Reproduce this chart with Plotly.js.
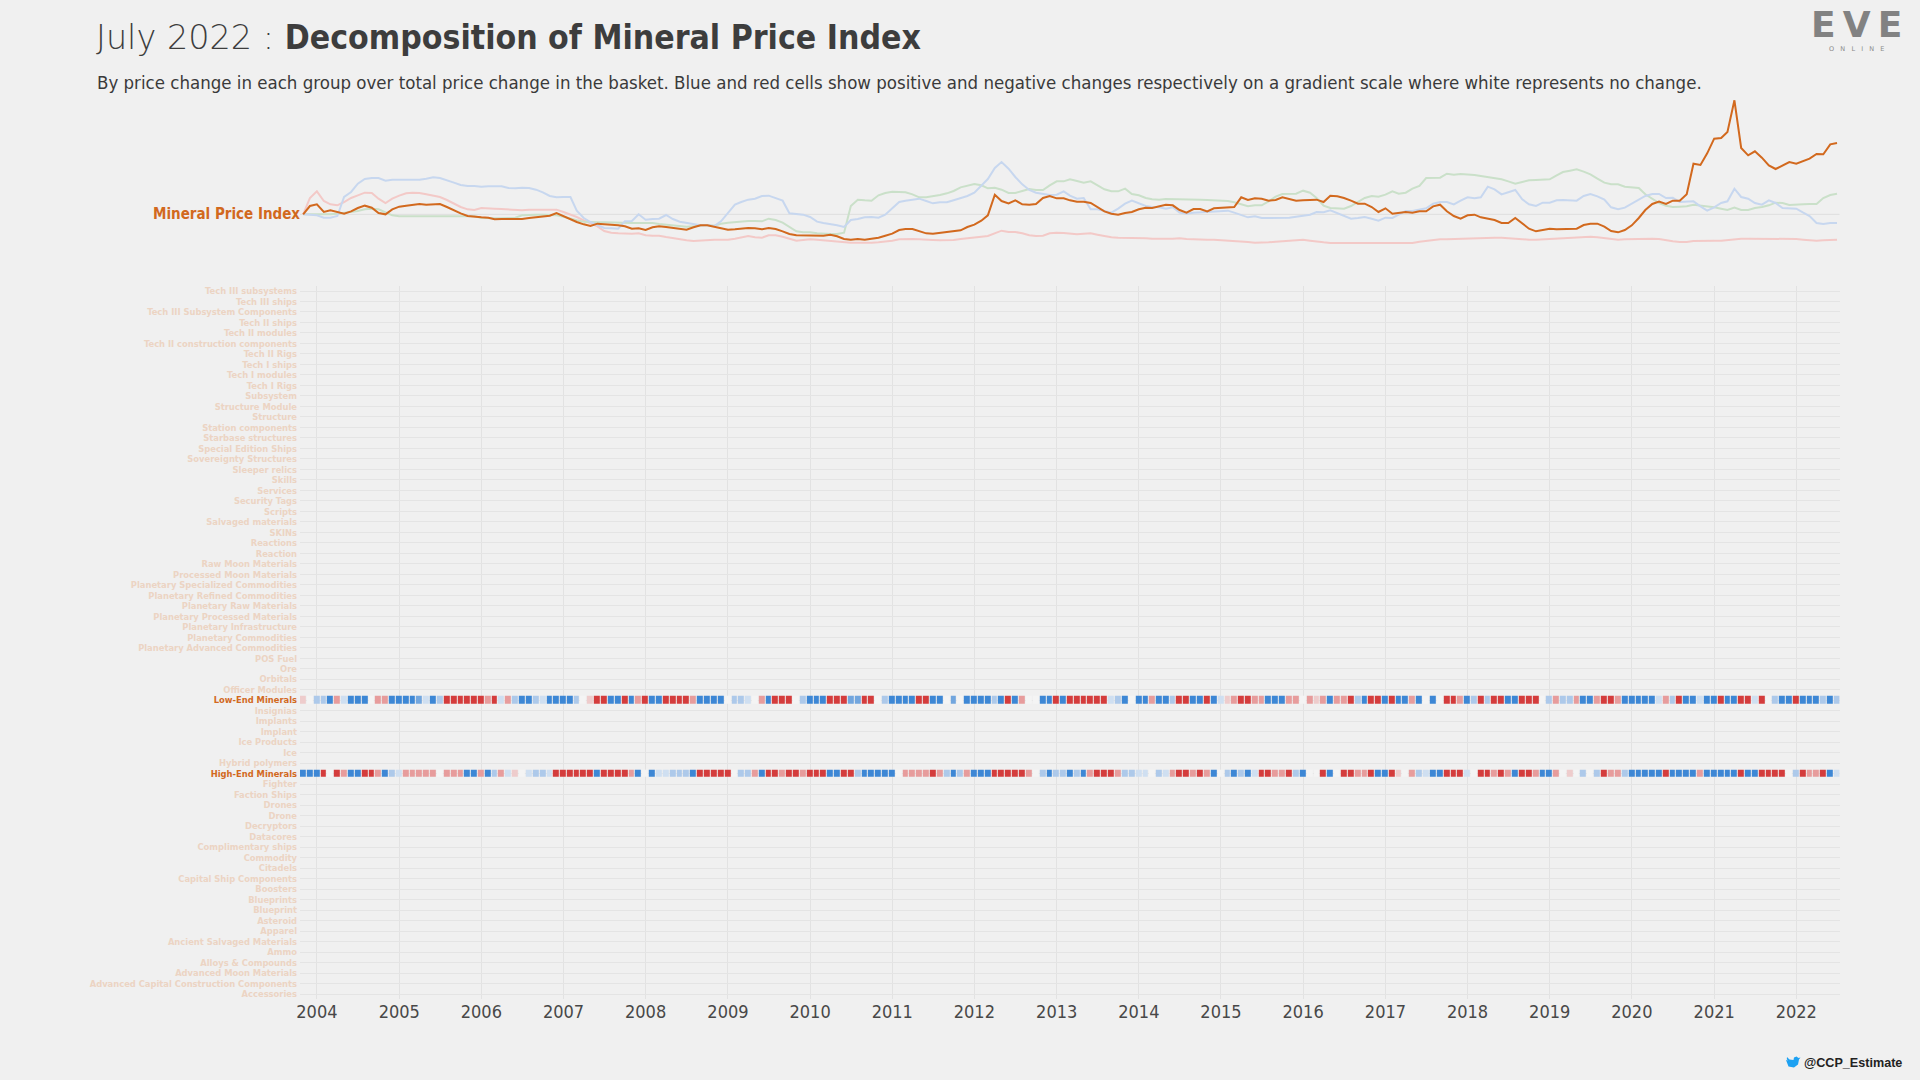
<!DOCTYPE html>
<html><head><meta charset="utf-8">
<script src="https://cdn.plot.ly/plotly-3.0.1.min.js"></script>
<style>html,body{margin:0;padding:0;background:#f0f0f0;overflow:hidden}#chart{width:1920px;height:1080px}</style>
</head><body><div id="chart"></div>
<script>
// ---------- DATA ----------
const startMonth = '2003-11';
const monthCount = 225; // Nov 2003 .. Jul 2022
const yearTicks = ['2004','2005','2006','2007','2008','2009','2010','2011','2012','2013','2014','2015','2016','2017','2018','2019','2020','2021','2022'];

const categories = ['Tech III subsystems','Tech III ships','Tech III Subsystem Components','Tech II ships','Tech II modules','Tech II construction components','Tech II Rigs','Tech I ships','Tech I modules','Tech I Rigs','Subsystem','Structure Module','Structure','Station components','Starbase structures','Special Edition Ships','Sovereignty Structures','Sleeper relics','Skills','Services','Security Tags','Scripts','Salvaged materials','SKINs','Reactions','Reaction','Raw Moon Materials','Processed Moon Materials','Planetary Specialized Commodities','Planetary Refined Commodities','Planetary Raw Materials','Planetary Processed Materials','Planetary Infrastructure','Planetary Commodities','Planetary Advanced Commodities','POS Fuel','Ore','Orbitals','Officer Modules','Low-End Minerals','Insignias','Implants','Implant','Ice Products','Ice','Hybrid polymers','High-End Minerals','Fighter','Faction Ships','Drones','Drone','Decryptors','Datacores','Complimentary ships','Commodity','Citadels','Capital Ship Components','Boosters','Blueprints','Blueprint','Asteroid','Apparel','Ancient Salvaged Materials','Ammo','Alloys & Compounds','Advanced Moon Materials','Advanced Capital Construction Components','Accessories'];
const highlighted = ['Low-End Minerals','High-End Minerals'];

// Index lines (change from start, arbitrary units)
const mineralPriceIndex = [0,25,30,7,12,7,2,9,19,26,20,4,0,15,23,26,29,31,29,30,31,22,12,3,-5,-8,-9,-10,-15,-14,-14,-16,-14,-11,-9,-6,-4,4,-6,-16,-23,-30,-35,-28,-29,-31,-33,-36,-43,-42,-47,-39,-36,-38,-40,-43,-46,-39,-33,-33,-38,-42,-46,-45,-43,-41,-42,-45,-41,-44,-51,-59,-63,-63,-62,-64,-64,-61,-66,-74,-76,-74,-76,-73,-70,-64,-58,-47,-44,-44,-51,-57,-58,-56,-54,-52,-48,-38,-31,-19,-3,59,40,33,42,30,29,31,49,55,48,48,42,38,38,34,22,9,2,-1,4,7,15,20,19,24,29,27,13,5,16,16,9,18,20,22,22,51,43,48,47,41,43,51,47,41,42,43,44,37,56,54,49,41,32,32,22,7,18,2,4,7,5,9,9,24,29,9,-5,-13,-3,-1,-9,-13,-17,-26,-26,-11,-28,-43,-51,-47,-43,-45,-44,-43,-43,-32,-28,-28,-37,-50,-54,-47,-33,-11,13,31,38,31,41,41,60,152,148,183,227,229,247,342,199,177,189,170,147,136,147,157,152,159,167,181,180,210,214];
const blueLine = [0,-1,-3,-10,-10,-5,52,67,92,106,109,109,101,104,104,104,104,104,107,111,109,103,95,88,85,85,83,84,85,84,79,78,80,79,74,66,55,51,52,52,11,-11,-23,-31,-41,-42,-43,-21,-20,0,-16,-14,-13,-2,-14,-22,-26,-30,-33,-33,-35,-21,4,29,37,44,47,55,56,49,41,3,0,-1,-8,-22,-26,-29,-33,-38,-17,-14,-9,-8,-10,-1,17,37,41,45,47,40,33,36,36,42,49,55,65,85,106,139,157,137,112,90,73,65,61,58,59,69,56,47,49,15,15,11,5,17,32,41,33,25,22,21,17,21,5,2,5,6,9,9,10,11,5,-1,-9,-6,-11,-11,-11,-10,-10,-7,-3,-1,7,6,12,3,-6,-13,-11,-8,-13,-19,-10,-11,-1,10,10,15,18,32,37,37,30,41,51,48,51,83,75,60,66,73,45,30,25,35,35,42,43,43,41,55,61,54,44,21,15,20,32,45,55,61,61,49,50,37,37,39,24,11,21,34,39,77,52,47,34,29,42,34,19,17,17,5,-5,-26,-29,-26,-26];
const redLine = [0,49,69,40,30,27,37,49,57,65,64,47,34,47,56,63,65,64,60,56,52,43,33,22,15,13,19,17,17,16,15,12,12,14,14,14,14,14,7,0,-8,-18,-28,-36,-50,-55,-57,-58,-58,-57,-63,-64,-64,-68,-72,-75,-78,-80,-78,-77,-76,-76,-76,-73,-70,-65,-69,-70,-63,-63,-67,-73,-79,-77,-75,-76,-78,-80,-82,-84,-85,-85,-86,-85,-84,-82,-79,-75,-74,-74,-75,-77,-77,-78,-78,-77,-74,-71,-68,-67,-65,-57,-49,-53,-53,-57,-63,-65,-64,-57,-55,-56,-58,-60,-58,-57,-61,-65,-69,-70,-70,-70,-71,-72,-73,-74,-73,-73,-72,-74,-75,-77,-76,-76,-77,-80,-81,-82,-83,-85,-85,-84,-82,-81,-80,-79,-76,-79,-82,-84,-86,-86,-86,-86,-86,-86,-87,-87,-86,-86,-86,-86,-86,-82,-79,-76,-75,-75,-74,-73,-72,-72,-71,-71,-70,-70,-72,-74,-75,-76,-76,-75,-74,-73,-71,-70,-68,-67,-67,-69,-72,-75,-76,-75,-74,-73,-73,-73,-74,-78,-81,-83,-83,-80,-79,-79,-79,-79,-77,-73,-73,-73,-73,-73,-73,-73,-73,-73,-74,-76,-78,-79,-78,-76,-76];
const greenLine = [0,0,0,-2,0,2,4,6,10,15,17,15,7,-3,-6,-6,-6,-6,-6,-5,-5,-5,-5,-5,-5,-6,-11,-12,-12,-12,-11,-10,-3,-1,-1,-1,-1,-3,-7,-13,-18,-22,-24,-24,-24,-25,-25,-25,-26,-26,-25,-26,-29,-31,-33,-35,-37,-36,-34,-32,-34,-28,-25,-23,-21,-20,-20,-21,-13,-17,-25,-38,-51,-54,-54,-57,-59,-59,-59,-55,25,44,42,41,57,64,68,68,66,60,51,51,54,58,63,70,81,87,91,87,78,80,74,64,64,70,76,73,73,87,99,99,105,100,95,99,87,75,69,69,77,61,57,49,45,44,46,46,44,45,45,44,43,42,42,40,36,29,24,27,27,39,53,61,62,62,71,65,49,26,19,17,17,25,37,49,55,53,59,69,62,65,77,85,109,109,110,122,119,121,120,118,115,112,107,105,99,92,97,102,103,103,105,117,127,131,135,128,120,107,95,90,90,83,80,79,60,47,34,26,22,23,24,29,27,24,21,17,13,20,13,13,19,22,27,35,34,28,30,30,31,31,49,58,62];

// Heatmap cells: share of price change (positive = blue, negative = red)
const lowEndMinerals = [-0.5,0,1,1,3,-1,0.5,3,3,3,0,-1,-1,3,3,3,3,2,0.5,3,1,-3,-3,-3,-3,-3,-3,-1,-3,0.5,-1,1,3,3,1,0.5,3,3,3,3,1,0,-0.5,-3,-3,3,3,-3,3,-1,-3,3,3,-3,-3,-3,-3,-1,3,3,3,3,0,1,1,0.5,0,-1,3,-3,-3,-3,0,1,3,3,3,-3,-3,-3,2,2,-3,-3,0,1,3,3,3,3,-3,-3,3,3,0,2,0,3,3,3,3,1,3,-3,3,-1,0,0,3,3,-3,3,-3,-3,-3,-3,-3,-3,0.5,1,3,0,3,3,-1,3,3,1,-3,-3,3,3,-3,3,0.5,-0.5,-1,-3,-3,-1,-1,3,3,3,-1,-1,0,-1,-0.5,-1,3,-1,-1,-3,1,3,-3,-3,3,-3,3,3,-1,3,0,3,0,-3,-3,-1,3,1,-3,1,-3,-3,3,3,-3,-3,-3,0,1,-1,1,1,-1,3,3,-1,-3,-3,-1,3,3,3,3,3,0.5,-1,1,-3,3,3,0.5,3,3,-3,3,3,-3,-3,0.5,-3,0,1,3,3,-3,3,3,3,1,3,1];
const highEndMinerals = [3,3,3,-3,0,-3,-1,3,3,-3,-3,-1,3,1,0.5,-1,-1,-1,-1,-1,0,-1,-1,-1,3,3,-1,3,1,-1,0.5,-0.5,0,0.5,1,1,0.5,-3,-3,-3,-3,-3,-3,3,-3,-3,-3,-3,-1,3,0,3,0.5,0.5,1,1,1,3,-3,-3,-3,-3,-3,0,1,1,-1,3,-3,-3,-1,-3,-3,-1,-3,-3,-3,3,3,-3,-3,1,3,3,3,3,3,0,-1,-1,-1,-1,-3,-1,1,3,1,-1,3,3,3,-3,-3,-3,-3,-3,-1,0,1,3,1,1,3,1,3,-1,-3,-3,-3,-1,1,1,0.5,0.5,0,1,0.5,-1,-3,-3,-1,-3,-1,3,0,1,3,1,3,0.5,-3,-3,-1,-1,-3,1,3,0,0,-3,3,0,-3,-3,-1,-1,-3,3,3,-3,-0.5,0,-1,1,0.5,3,3,-3,-3,-3,0.5,0,-3,-3,-1,-3,-1,3,-3,-3,-1,3,3,-1,0,-0.5,0,1,0,1,-3,-1,-1,1,3,3,3,3,3,-3,3,3,3,3,-1,3,3,3,3,3,-3,3,3,-3,-3,-3,-3,0,1,-3,-1,-1,-3,3,0.5];

// ---------- BUILD ----------
const months = [];
{ let y = +startMonth.slice(0,4), m = +startMonth.slice(5,7);
  for (let k = 0; k < monthCount; k++) { months.push(y + '-' + String(m).padStart(2,'0') + '-01'); m++; if (m > 12) { m = 1; y++; } } }

const W = 1920, H = 1080;
const px = v => v / W, py = v => 1 - v / H;
const FONT = 'DejaVu Sans Condensed, DejaVu Sans, sans-serif';
const ORANGE = '#d2691e';

const z = categories.map(c => c === 'Low-End Minerals' ? lowEndMinerals : (c === 'High-End Minerals' ? highEndMinerals : months.map(() => null)));

const traces = [
  {type:'heatmap', x: months, y: categories, z: z, xaxis:'x', yaxis:'y', zmin:-3, zmax:3, showscale:false, xgap:1, ygap:3, hoverinfo:'skip',
   colorscale:[[0,'#d43c3c'],[0.1667,'#dd6767'],[0.3333,'#e79c9c'],[0.4167,'#eecccc'],[0.5,'#f4f4f4'],[0.5833,'#cfdff1'],[0.6667,'#adc9ea'],[0.8333,'#72a6de'],[1,'#3d87d5']]},
  {type:'scatter', mode:'lines', name:'Low-End', x: months, y: redLine, xaxis:'x2', yaxis:'y2', line:{color:'#f3c9c7', width:2}, hoverinfo:'skip'},
  {type:'scatter', mode:'lines', name:'Other', x: months, y: greenLine, xaxis:'x2', yaxis:'y2', line:{color:'#cae0c9', width:2}, hoverinfo:'skip'},
  {type:'scatter', mode:'lines', name:'High-End', x: months, y: blueLine, xaxis:'x2', yaxis:'y2', line:{color:'#c7d7ef', width:2}, hoverinfo:'skip'},
  {type:'scatter', mode:'lines', name:'Mineral Price Index', x: months, y: mineralPriceIndex, xaxis:'x2', yaxis:'y2', line:{color:ORANGE, width:2}, hoverinfo:'skip'}
];

const tickText = categories.map(c => highlighted.includes(c) ? '<span style="color:' + ORANGE + '">' + c + '</span>' : c);
const xRange = ['2003-10-18','2022-07-12'];
const xDomain = [px(300), px(1839.5)];

// twitter bird (decoration) in pixel coords
const bird = [[1786,1060],[1788.5,1066.5],[1794,1067.5],[1798,1064.5],[1799,1059.5],[1800.5,1057.5],[1798.5,1058],[1796.5,1056.5],[1794,1057.5],[1793.5,1060],[1789.5,1059.5],[1787,1057],[1786.8,1059.2],[1787.9,1060.6]];
const birdPath = 'M ' + bird.map(p => px(p[0]).toFixed(5) + ',' + py(p[1]).toFixed(5)).join(' L ') + ' Z';

const layout = {
  width: W, height: H, margin:{l:0,r:0,t:0,b:0},
  paper_bgcolor:'#f0f0f0', plot_bgcolor:'#f0f0f0', showlegend:false,
  font:{family:FONT, color:'#3c3c3c'},
  title:{text:'<span style="font-family:\'DejaVu Sans\', sans-serif;font-weight:200">July 2022 : </span><b>Decomposition of Mineral Price Index</b>', x:px(96), xanchor:'left', xref:'container', y:py(37), yanchor:'middle', yref:'container',
         font:{family:FONT, size:33.5, color:'#3d3d3d'}},
  xaxis:{type:'date', domain:xDomain, range:xRange, anchor:'y', tickmode:'array', tickvals: yearTicks.map(y => y + '-01-01'), ticktext: yearTicks,
         showgrid:true, gridcolor:'#e2e2e2', gridwidth:1, zeroline:false, showline:false, ticks:'', tickfont:{family:FONT, size:18, color:'#484848'}, fixedrange:true},
  yaxis:{type:'category', domain:[py(999.25), py(285.75)], range:[categories.length - 0.5, -0.5], anchor:'x', tickmode:'array', tickvals:categories, ticktext:tickText,
         showgrid:true, gridcolor:'#e4e4e4', gridwidth:1, zeroline:false, showline:false, ticks:'', ticklabelstandoff:2,
         tickfont:{family:FONT, size:9.3, color:'#ecd4c3', weight:'bold'}, fixedrange:true},
  xaxis2:{type:'date', domain:xDomain, range:xRange, anchor:'y2', visible:false, showgrid:false, fixedrange:true},
  yaxis2:{domain:[py(258), py(95)], range:[-131, 358], anchor:'x2', visible:false, showgrid:false, zeroline:false, fixedrange:true},
  shapes:[
    {type:'line', xref:'x2 domain', yref:'y2', x0:0, x1:1, y0:0, y1:0, line:{color:'#dedede', width:1}, layer:'below'},
    {type:'path', xref:'paper', yref:'paper', path: birdPath, fillcolor:'#1da1f2', line:{width:0}}
  ],
  annotations:[
    {text:'By price change in each group over total price change in the basket. Blue and red cells show positive and negative changes respectively on a gradient scale where white represents no change.',
     xref:'paper', yref:'paper', x:px(95), y:py(82), xanchor:'left', yanchor:'middle', showarrow:false, font:{family:FONT, size:18.5, color:'#3a3a3a'}},
    {text:'<b>Mineral Price Index</b>', xref:'paper', yref:'y2', x:px(302), y:0, xanchor:'right', yanchor:'middle', showarrow:false, font:{family:FONT, size:15, color:ORANGE}},
    {text:'<b>E\u2009V\u2009E</b>', xref:'paper', yref:'paper', x:px(1856), y:py(25), xanchor:'center', yanchor:'middle', showarrow:false, font:{family:'DejaVu Sans, sans-serif', size:36, color:'#828282'}},
    {text:'O   N   L   I   N   E', xref:'paper', yref:'paper', x:px(1856), y:py(49), xanchor:'center', yanchor:'middle', showarrow:false, font:{family:'DejaVu Sans, sans-serif', size:6.5, color:'#8a8a8a'}},
    {text:'<b>@CCP_Estimate</b>', xref:'paper', yref:'paper', x:px(1904), y:py(1063), xanchor:'right', yanchor:'middle', showarrow:false, font:{family:'Liberation Sans, Arial, sans-serif', size:12.6, color:'#222222'}}
  ]
};

Plotly.newPlot('chart', traces, layout, {displayModeBar:false, staticPlot:true});
</script>
</body></html>
